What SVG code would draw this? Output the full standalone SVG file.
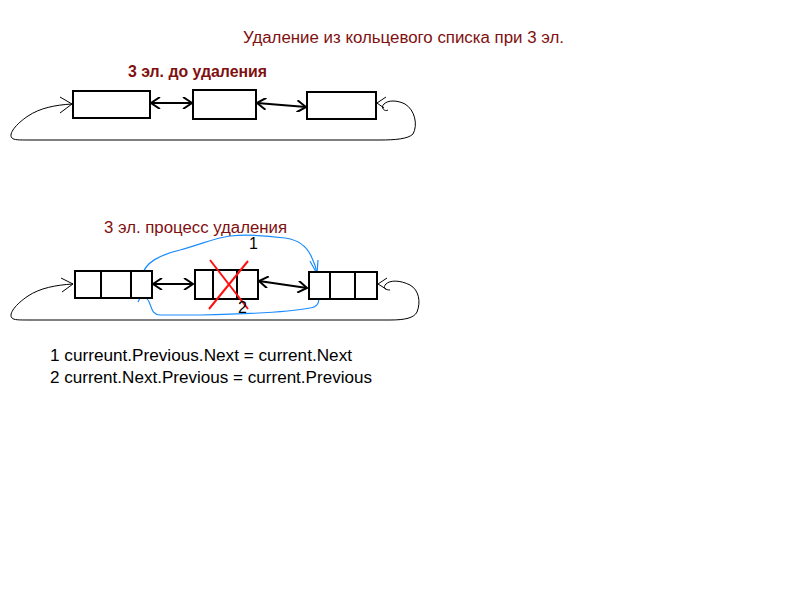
<svg xmlns="http://www.w3.org/2000/svg" width="800" height="600" viewBox="0 0 800 600">
<style>
.t{font-family:"Liberation Sans",Arial,sans-serif;font-size:16px}
.red{fill:#7f1010}
.blk{fill:#000}
.box{fill:#fff;stroke:#000;stroke-width:2}
.div{stroke:#000;stroke-width:2}
.conn{fill:none;stroke:#000;stroke-width:2}
.loop{fill:none;stroke:#000;stroke-width:1}
.blue{fill:none;stroke:#1a8cff;stroke-width:1.2}
.cross{stroke:#ff1010;stroke-width:2}
</style>
<defs>
<marker id="ah" markerWidth="12" markerHeight="12" refX="10" refY="6" orient="auto-start-reverse" markerUnits="userSpaceOnUse">
<path d="M1,0 L10,6 L1,12" fill="none" stroke="#000" stroke-width="2"/>
</marker>
<marker id="ahThin" markerWidth="14" markerHeight="18" refX="12" refY="9" orient="auto" markerUnits="userSpaceOnUse">
<path d="M0,1 L12,9 L0,17" fill="none" stroke="#000" stroke-width="1"/>
</marker>
<marker id="ahBlue" markerWidth="10" markerHeight="12" refX="8" refY="6" orient="auto" markerUnits="userSpaceOnUse">
<path d="M0,0 L8,6 L0,12" fill="none" stroke="#1a8cff" stroke-width="1.2"/>
</marker>
</defs>
<rect width="800" height="600" fill="#fff"/>

<g id="titles">
<text class="t red" x="243" y="43" textLength="321" lengthAdjust="spacingAndGlyphs">Удаление из кольцевого списка при 3 эл.</text>
<text class="t red" x="128" y="77" font-weight="bold" textLength="139" lengthAdjust="spacingAndGlyphs">3 эл. до удаления</text>
<text class="t red" x="104" y="233" textLength="183" lengthAdjust="spacingAndGlyphs">3 эл. процесс удаления</text>
</g>

<g id="connectors">
<line class="conn" x1="151" y1="103" x2="192" y2="103" marker-start="url(#ah)" marker-end="url(#ah)"/>
<line class="conn" x1="257" y1="103" x2="306" y2="107" marker-start="url(#ah)" marker-end="url(#ah)"/>
<path class="loop" d="M72,104 C55,105 40,108 28,116 C16,124 8,134 12,138 C14,140 18,140 30,140 L380,140 C395,140 408,139 413,134 C418,125 415,110 405,104 C397,100 388,100 384,104 C380,108 385,112 388,110" />
<path class="loop" d="M60,97 L72,104 L60,113"/>
<path class="loop" d="M386,97 L377,103 L384,108"/>

<line class="conn" x1="153" y1="284" x2="193" y2="284" marker-start="url(#ah)" marker-end="url(#ah)"/>
<line class="conn" x1="259" y1="281" x2="307" y2="288" marker-start="url(#ah)" marker-end="url(#ah)"/>
<path class="loop" d="M73,284 C56,285 40,288 28,296 C16,304 8,314 12,318 C14,320 18,320 30,320 L390,320 C405,320 414,318 417,312 C421,302 419,290 410,285 C400,280 390,280 386,284 C382,288 386,290 390,290"/>
<path class="loop" d="M61,278 L73,284 L62,292"/>
<path class="loop" d="M387,278 L378,284 L386,289"/>

<path class="blue" d="M142,276 C145,262 160,255 180,250 C205,243 215,238 230,236 C250,234 270,236 285,238 C300,240 308,248 312,258 C315,264 316,268 317,273"/>
<path class="blue" d="M310,261 L317,274 L318,260"/>
<path class="blue" d="M318,295 C320,302 318,307 310,308 C290,312 250,314 200,315 L160,315 C150,314 152,305 148,300 C146,297 144,295 142,294"/>
<path class="blue" d="M142,294 L138,302 M142,294 L151,298"/>
</g>

<g id="node-a1">
<rect class="box" x="73" y="91" width="77" height="27"/>
</g>
<g id="node-a2">
<rect class="box" x="193" y="90" width="63" height="29"/>
</g>
<g id="node-a3">
<rect class="box" x="307" y="92" width="69" height="27"/>
</g>

<g id="node-b1">
<rect class="box" x="75" y="271" width="77" height="27"/>
<line class="div" x1="101" y1="271" x2="101" y2="298"/>
<line class="div" x1="131" y1="271" x2="131" y2="298"/>
</g>
<g id="node-b2">
<rect class="box" x="195" y="270" width="63" height="29"/>
<line class="div" x1="213" y1="270" x2="213" y2="299"/>
<line class="div" x1="237" y1="270" x2="237" y2="299"/>
<line class="cross" x1="210" y1="260" x2="248" y2="309"/>
<line class="cross" x1="248" y1="261" x2="209" y2="309"/>
</g>
<g id="node-b3">
<rect class="box" x="309" y="272" width="68" height="27"/>
<line class="div" x1="330" y1="272" x2="330" y2="299"/>
<line class="div" x1="355" y1="272" x2="355" y2="299"/>
</g>

<g id="labels">
<text class="t blk" x="249" y="249">1</text>
<text class="t blk" x="238" y="313">2</text>
<text class="t blk" x="50" y="361" textLength="302" lengthAdjust="spacingAndGlyphs">1 curreunt.Previous.Next = current.Next</text>
<text class="t blk" x="50" y="383" textLength="322" lengthAdjust="spacingAndGlyphs">2 current.Next.Previous = current.Previous</text>
</g>
</svg>
